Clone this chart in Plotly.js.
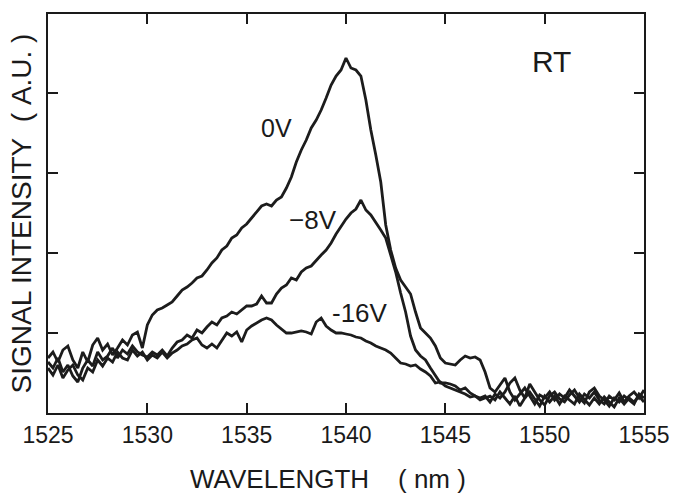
<!DOCTYPE html>
<html>
<head>
<meta charset="utf-8">
<script src="https://cdn.plot.ly/plotly-3.0.1.min.js"></script>
<style>html,body{margin:0;padding:0;background:#fff;}#chart{width:678px;height:495px;}</style>
</head>
<body>
<div id="chart"></div>
<script>
// Wavelength (nm)
var wavelength = [
1525,1525.25,1525.5,1525.75,1526,1526.25,1526.5,1526.75,1527,1527.25,1527.5,1527.75,1528,1528.25,1528.5,1528.75,1529,1529.25,1529.5,1529.75,
1530,1530.25,1530.5,1530.75,1531,1531.25,1531.5,1531.75,1532,1532.25,1532.5,1532.75,1533,1533.25,1533.5,1533.75,1534,1534.25,1534.5,1534.75,
1535,1535.25,1535.5,1535.75,1536,1536.25,1536.5,1536.75,1537,1537.25,1537.5,1537.75,1538,1538.25,1538.5,1538.75,1539,1539.25,1539.5,1539.75,
1540,1540.25,1540.5,1540.75,1541,1541.25,1541.5,1541.75,1542,1542.25,1542.5,1542.75,1543,1543.25,1543.5,1543.75,1544,1544.25,1544.5,1544.75,
1545,1545.25,1545.5,1545.75,1546,1546.25,1546.5,1546.75,1547,1547.25,1547.5,1547.75,1548,1548.25,1548.5,1548.75,1549,1549.25,1549.5,1549.75,
1550,1550.25,1550.5,1550.75,1551,1551.25,1551.5,1551.75,1552,1552.25,1552.5,1552.75,1553,1553.25,1553.5,1553.75,1554,1554.25,1554.5,1554.75,1555
];

// Signal intensity (A.U.) at 0 V bias
var signal0V = [
55,61,51,63,67,53,45,61,51,68,75,63,69,58,65,73,68,78,81,65,
88,98,103,105,108,111,117,123,126,130,135,137,143,150,155,163,167,175,178,185,
189,195,201,207,209,207,213,216,225,236,251,263,273,285,293,303,315,328,337,343,
355,345,343,337,313,283,258,231,188,163,145,133,126,119,101,85,80,75,67,55,
50,49,48,53,57,55,56,53,41,25,21,28,35,21,13,19,25,17,9,18,
15,21,13,19,15,23,17,11,19,15,21,13,9,17,13,20,11,17,21,15,23
];

// Signal intensity (A.U.) at -8 V bias
var signalM8V = [
51,45,55,41,48,37,31,45,53,47,61,53,57,65,55,63,59,67,61,58,
56,61,58,63,57,65,71,73,78,75,83,80,86,91,88,95,97,101,99,103,
107,107,109,117,110,110,119,125,128,135,133,141,145,147,153,158,163,170,179,187,
194,200,204,213,203,198,191,183,175,158,141,120,101,77,63,57,53,45,37,30,
30,29,27,23,25,20,17,15,17,11,19,15,21,30,35,23,15,29,21,13,
8,17,21,14,11,18,23,15,10,21,25,17,13,7,15,11,17,13,9,19,15
];

// Signal intensity (A.U.) at -16 V bias
var signalM16V = [
45,38,48,35,43,48,38,33,45,41,53,47,55,51,61,55,53,63,57,61,
53,58,55,61,55,60,63,67,69,73,75,68,65,69,65,73,80,77,81,71,
83,87,90,93,95,93,88,84,80,80,81,82,81,79,91,95,87,83,80,80,
79,78,76,75,72,70,67,65,63,60,55,50,49,47,48,44,41,37,30,31,
27,25,23,21,19,16,17,13,15,17,13,21,15,9,17,7,15,21,14,7,
17,11,17,9,17,13,9,19,13,8,15,9,16,11,6,15,9,15,11,17,11
];

var xTicks = [1525,1530,1535,1540,1545,1550,1555];
var yTicks = [80,160,240,320];

var lineStyle = {color:'#1c1c1c', width:2.8};
var traces = [
  {x: wavelength, y: signal0V, name: '0V', type:'scatter', mode:'lines', line: lineStyle},
  {x: wavelength, y: signalM8V, name: '-8V', type:'scatter', mode:'lines', line: lineStyle},
  {x: wavelength, y: signalM16V, name: '-16V', type:'scatter', mode:'lines', line: lineStyle}
];

var fam = 'Liberation Sans, Arial, Helvetica, sans-serif';
var layout = {
  width: 678, height: 495,
  margin: {l:48, r:34, t:14, b:82},
  paper_bgcolor:'#ffffff', plot_bgcolor:'#ffffff',
  showlegend:false,
  font:{family:fam, color:'#1a1a1a'},
  xaxis: {
    range:[1525,1555], tickvals:xTicks, ticktext:xTicks.map(String),
    ticks:'inside', ticklen:10, tickwidth:2, tickcolor:'#1a1a1a',
    showline:true, linewidth:2, linecolor:'#1a1a1a', mirror:'allticks',
    showgrid:false, zeroline:false,
    tickfont:{family:fam, size:23, color:'#1a1a1a'},
    automargin:false, fixedrange:true
  },
  yaxis: {
    range:[0,399], tickvals:yTicks, showticklabels:false,
    ticks:'inside', ticklen:10, tickwidth:2, tickcolor:'#1a1a1a',
    showline:true, linewidth:2, linecolor:'#1a1a1a', mirror:'allticks',
    showgrid:false, zeroline:false,
    title:{text:'SIGNAL INTENSITY\u00A0\u00A0(\u00A0A.U.\u00A0)', font:{family:fam, size:28, color:'#1a1a1a'}, standoff:6},
    automargin:false, fixedrange:true
  },
  annotations: [
    {x:0.47, y:-0.1654, xref:'paper', yref:'paper', xanchor:'center', yanchor:'middle', borderpad:0,
     text:'WAVELENGTH\u00A0\u00A0\u00A0\u00A0(\u00A0nm\u00A0)', showarrow:false, font:{family:fam, size:26, color:'#1a1a1a'}},
    {x:1536.52, y:285, xref:'x', yref:'y', text:'0V', showarrow:false, font:{family:fam, size:25, color:'#1a1a1a'}},
    {x:1538.34, y:193, xref:'x', yref:'y', text:'\u22128V', showarrow:false, font:{family:fam, size:26, color:'#1a1a1a'}},
    {x:1540.70, y:100, xref:'x', yref:'y', text:'-16V', showarrow:false, font:{family:fam, size:26, color:'#1a1a1a'}},
    {x:1550.36, y:352, xref:'x', yref:'y', text:'RT', showarrow:false, font:{family:fam, size:30, color:'#1a1a1a'}}
  ]
};

Plotly.newPlot('chart', traces, layout, {staticPlot:true, displayModeBar:false});
</script>
</body>
</html>
